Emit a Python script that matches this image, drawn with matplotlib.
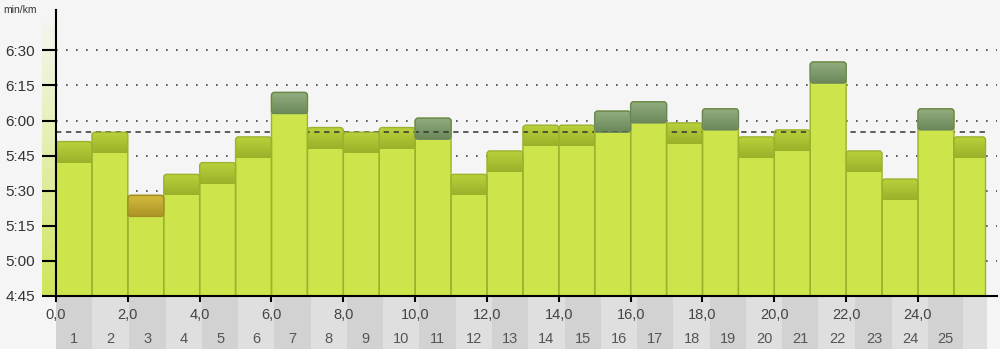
import numpy as np
import matplotlib.pyplot as plt
from matplotlib.patches import Rectangle, FancyBboxPatch
from matplotlib.colors import to_rgb
from matplotlib.transforms import blended_transform_factory

plt.rcParams["font.family"] = ["Liberation Sans", "DejaVu Sans"]

# pace of each km split (min:sec per km)
split_pace = ["5:51", "5:55", "5:28", "5:37", "5:42", "5:53", "6:12", "5:57",
              "5:55", "5:57", "6:01", "5:37", "5:47", "5:58", "5:58", "6:04",
              "6:08", "5:59", "6:05", "5:53", "5:56", "6:25", "5:47", "5:35",
              "6:05", "5:53"]
split_km = [1.00, 1.00, 1.00, 1.00, 1.00, 1.00, 1.00, 1.00, 1.00, 1.00,
            1.00, 1.00, 1.00, 1.00, 1.00, 1.00, 1.00, 1.00, 1.00, 1.00,
            1.00, 1.00, 1.00, 1.00, 1.00, 0.88]
avg_pace = "5:55"

# lap strip under the axis
lap_km = [1.00, 1.03, 1.03, 1.01, 1.00, 1.01, 1.01, 1.01, 1.01, 1.01,
          1.01, 1.01, 1.01, 1.01, 1.01, 1.01, 1.01, 1.01, 1.01, 1.01,
          1.01, 1.03, 1.03, 1.00, 0.97, 0.67]
lap_labels = [str(i) for i in range(1, 26)] + [""]

y_ticks = ["4:45", "5:00", "5:15", "5:30", "5:45", "6:00", "6:15", "6:30"]
x_ticks = [0, 2, 4, 6, 8, 10, 12, 14, 16, 18, 20, 22, 24]


def to_sec(t):
    m, s = t.split(":")
    return int(m) * 60 + int(s)


pace = np.array([to_sec(p) for p in split_pace])
starts = np.concatenate([[0], np.cumsum(split_km)[:-1]])
avg = to_sec(avg_pace)
ytick_vals = [to_sec(t) for t in y_ticks]

bg = "#f5f5f5"
body_col = "#cde44b"
cap_cols = {
    "olive": ("#bbd23c", "#9ab12a"),
    "dark": ("#93af82", "#6b885b"),
    "gold": ("#d6bc3d", "#ad9528"),
}
cap_edge = {"olive": "#9ab22c", "dark": "#6a8659", "gold": "#a48d22"}
cap_h = 9

fig = plt.figure(figsize=(10, 3.49), dpi=100, facecolor=bg)
ax = fig.add_axes([0.056, 0.152, 0.941, 0.819])
ax.set_facecolor(bg)

ymin, ymax = 285, 407.2

# gradient strip left of the y axis (axes coords, outside the frame)
top_c = np.array(to_rgb("#f4f5ee"))
bot_c = np.array(to_rgb("#cfe458"))
n = 60
strip_w = 14 / 941
for k in range(n):
    f = k / (n - 1)
    col = bot_c + (top_c - bot_c) * f ** 0.9
    ax.add_patch(Rectangle((-strip_w, 0.965 * k / n), strip_w, 0.965 / n + 0.002,
                           transform=ax.transAxes, facecolor=col,
                           edgecolor="none", clip_on=False, zorder=0.5))

# dotted grid
for v in ytick_vals[1:]:
    ax.axhline(v, color="#444444", lw=1.2, ls=(0, (1, 5)), zorder=1)

# average pace
ax.hlines(avg, 0, starts[-1] + split_km[-1], color="#333333", lw=1.1,
          ls=(0, (3.5, 3)), zorder=4)

fastest = pace.min()
asp = (3 / 2.34) / (3 / 35.9)
r = 3 / 35.9
for x0, w, v in zip(starts, split_km, pace):
    if v == fastest:
        kind = "gold"
    elif v > 360:
        kind = "dark"
    else:
        kind = "olive"
    outline = FancyBboxPatch((x0, 250), w, v - 250,
                             boxstyle=f"round,pad=0,rounding_size={r}",
                             mutation_aspect=asp, facecolor="none",
                             edgecolor="#9ab22c", lw=1.0, zorder=6)
    ax.add_patch(outline)
    c1 = np.array(to_rgb(cap_cols[kind][0]))
    c2 = np.array(to_rgb(cap_cols[kind][1]))
    g = c2 + (c1 - c2) * np.linspace(0, 1, 32)[:, None]
    im = ax.imshow(g[:, None, :], aspect="auto", origin="lower",
                   extent=(x0, x0 + w, v - cap_h, v), zorder=3)
    im.set_clip_path(outline)
    ax.add_patch(Rectangle((x0, 250), w, v - cap_h - 250,
                           facecolor=body_col, edgecolor="none", zorder=5))
    if kind != "olive":
        ax.add_patch(FancyBboxPatch((x0, v - cap_h), w, cap_h,
                                    boxstyle=f"round,pad=0,rounding_size={r}",
                                    mutation_aspect=asp, facecolor="none",
                                    edgecolor=cap_edge[kind], lw=1.0, zorder=6.5))

ax.set_xlim(0, 26.2)
ax.set_ylim(ymin, ymax)

# lap strip
trans = blended_transform_factory(ax.transData, ax.transAxes)
lx = 0
for i, (w, lab) in enumerate(zip(lap_km, lap_labels)):
    col = "#d2d2d2" if i % 2 == 0 else "#dfdfdf"
    ax.add_patch(Rectangle((lx, -0.19), w, 0.185, transform=trans,
                           facecolor=col, edgecolor="none", clip_on=False,
                           zorder=0.5))
    if lab:
        ax.text(lx + w / 2, -0.15, lab, transform=trans, ha="center",
                va="center", fontsize=10.5, color="#555555")
    lx += w

for s in ["top", "right"]:
    ax.spines[s].set_visible(False)
for s in ["left", "bottom"]:
    ax.spines[s].set_linewidth(1.5)
    ax.spines[s].set_color("black")
    ax.spines[s].set_zorder(8)

ax.set_yticks(ytick_vals)
ax.set_yticklabels(y_ticks)
ax.set_xticks(x_ticks)
ax.set_xticklabels([f"{x},0" for x in x_ticks])
ax.tick_params(axis="y", length=10, width=1.5, pad=5, labelsize=11,
               labelcolor="#333333")
ax.tick_params(axis="x", length=4, width=1.5, pad=5, labelsize=10.5,
               labelcolor="#444444")

fig.text(0.003, 0.972, "min/km", fontsize=7.5, color="#333333", va="center")

fig.savefig("out.png", dpi=100, facecolor=bg)
